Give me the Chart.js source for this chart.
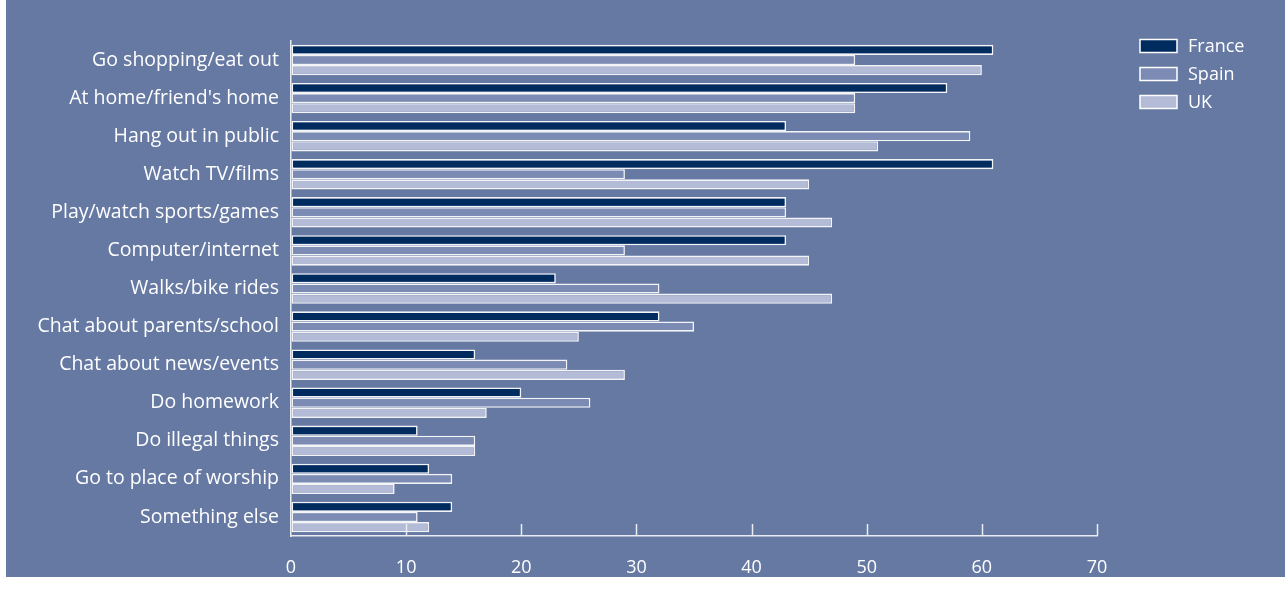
<!DOCTYPE html>
<html>
<head>
<meta charset="utf-8">
<script src="https://cdn.jsdelivr.net/npm/chart.js@4/dist/chart.umd.min.js"></script>
<style>
    html, body { margin: 0; padding: 0; background: #ffffff; }
    #panel { position: absolute; left: 6px; top: 0; width: 1279px; height: 577px; background: #6679a3; }
    #bar { display: block; }
</style>
</head>
<body>
<div id="panel"><canvas id="bar" width="1279" height="577"></canvas></div>
<script>
"use strict";

const activities = ["Go shopping/eat out", "At home/friend's home", "Hang out in public", "Watch TV/films",
    "Play/watch sports/games", "Computer/internet", "Walks/bike rides", "Chat about parents/school",
    "Chat about news/events", "Do homework", "Do illegal things", "Go to place of worship", "Something else"];
const france = [61, 57, 43, 61, 43, 43, 23, 32, 16, 20, 11, 12, 14];
const spain = [49, 49, 59, 29, 43, 29, 32, 35, 24, 26, 16, 14, 11];
const uk = [60, 49, 51, 45, 47, 45, 47, 25, 29, 17, 16, 9, 12];
const xTicks = [0, 10, 20, 30, 40, 50, 60, 70];

const textColor = '#ffffff';
const lineColor = '#e9ecf3';
const fontFamily = '"Open Sans", "Noto Sans", sans-serif';

/**
 * plugin som ritar små tickstreck uppåt från x-axeln och en egen legend till höger
 */
const extras = {
    id: 'extras',
    afterDraw(chart) {
        const ctx = chart.ctx;
        const area = chart.chartArea;
        const x = chart.scales.x;
        ctx.save();
        ctx.strokeStyle = lineColor;
        ctx.lineWidth = 1.5;
        xTicks.slice(1).forEach(v => {
            const px = Math.round(x.getPixelForValue(v)) + 0.5;
            ctx.beginPath();
            ctx.moveTo(px, area.bottom - 12);
            ctx.lineTo(px, area.bottom);
            ctx.stroke();
        });

        // legend
        ctx.font = '18px ' + fontFamily;
        ctx.textBaseline = 'middle';
        chart.data.datasets.forEach((ds, i) => {
            const lx = area.right + 43;
            const ly = 46 + i * 28;
            ctx.fillStyle = ds.backgroundColor;
            ctx.fillRect(lx, ly - 6.5, 37, 13);
            ctx.strokeStyle = '#ffffff';
            ctx.lineWidth = 1.5;
            ctx.strokeRect(lx, ly - 6.5, 37, 13);
            ctx.fillStyle = textColor;
            ctx.fillText(ds.label, lx + 48, ly + 1);
        });
        ctx.restore();
    }
};

function makeSet(label, values, color) {
    return {
        label: label,
        data: values,
        backgroundColor: color,
        borderColor: 'rgba(255,255,255,0.92)',
        borderWidth: 1.6,
        borderSkipped: false,
        categoryPercentage: 0.8,
        barPercentage: 1.0
    };
}

const barDiagram = document.getElementById('bar');
new Chart(barDiagram, {
    type: 'bar',
    data: {
        labels: activities,
        datasets: [
            makeSet('France', france, '#002b5f'),
            makeSet('Spain', spain, '#7b8bb4'),
            makeSet('UK', uk, '#b3bbd6')
        ]
    },
    options: {
        indexAxis: 'y',
        responsive: false,
        animation: false,
        layout: {
            padding: { top: 41, right: 188, left: 0, bottom: 0 }
        },
        plugins: {
            legend: { display: false },
            tooltip: { enabled: false }
        },
        scales: {
            x: {
                min: 0,
                max: 70,
                afterBuildTicks: scale => { scale.ticks = xTicks.map(v => ({ value: v })); },
                afterFit: scale => { scale.height = 41; },
                grid: { display: true, drawOnChartArea: false, drawTicks: false },
                border: { display: true, color: lineColor, width: 1.5 },
                ticks: {
                    color: textColor,
                    padding: 21,
                    maxRotation: 0,
                    font: { family: fontFamily, size: 18 }
                }
            },
            y: {
                afterFit: scale => { scale.width = 285; },
                grid: { display: true, drawOnChartArea: false, drawTicks: false },
                border: { display: true, color: lineColor, width: 1.5 },
                ticks: {
                    color: textColor,
                    padding: 12,
                    autoSkip: false,
                    font: { family: fontFamily, size: 19.5 }
                }
            }
        }
    },
    plugins: [extras]
});
</script>
</body>
</html>
